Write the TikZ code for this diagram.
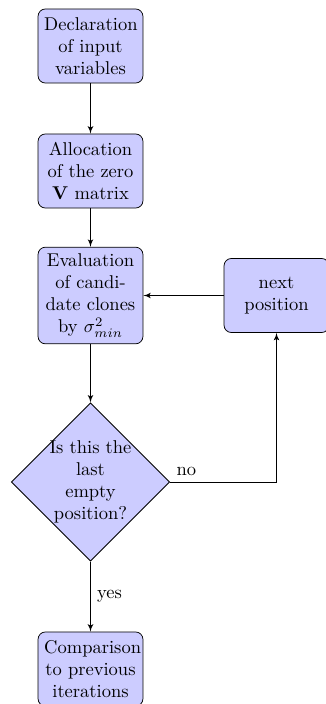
\documentclass[tikz,border=0pt]{standalone}
\usetikzlibrary{shapes.geometric,arrows}
\begin{document}
\begin{tikzpicture}[x=0.54pt,y=-0.54pt,
  blockbox/.style={rectangle, draw, fill=blue!20, text width=5em, text centered, rounded corners, minimum height=4em},
  decisionbox/.style={diamond, draw, fill=blue!20, text width=4.5em, text badly centered, inner sep=-1.1pt},
  conn/.style={draw, -latex'}]
\useasboundingbox (0,0) rectangle (326,704);
\node[blockbox] (b1) at (90.5,46) {Declaration of input variables};
\node[blockbox] (b2) at (90.5,171) {Allocation of the zero $\mathbf{V}$ matrix};
\node[blockbox] (b3) at (90.5,295.5) {Evaluation of candidate clones by $\sigma^2_{min}$};
\node[blockbox] (np) at (276.5,295.5) {next position};
\node[decisionbox] (dec) at (90.5,482) {Is this the last empty position?};
\node[blockbox] (b5) at (90.5,669) {Comparison to previous iterations};
\coordinate (corner) at (np.south |- dec.east);
\path[conn] (b1) -- (b2);
\path[conn] (b2) -- (b3);
\path[conn] (b3) -- (dec);
\path[conn] (dec) -- node[midway, right] {yes} (b5);
\path[conn] (dec.east) -- node[pos=0, above right] {no} (corner) -- (np.south);
\path[conn] (np) -- (b3);
\end{tikzpicture}
\end{document}
